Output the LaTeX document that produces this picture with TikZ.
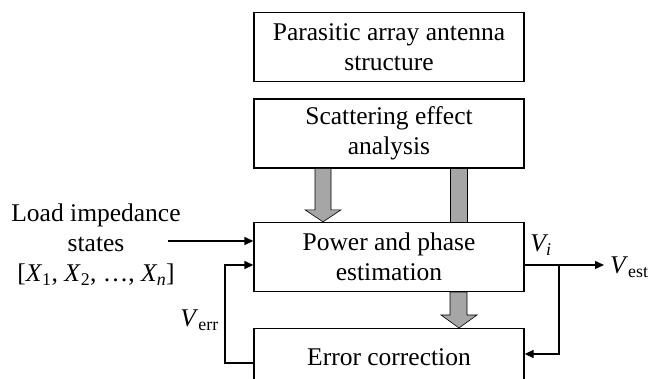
\documentclass[tikz,border=0pt]{standalone}
\usepackage{fontspec}
\setmainfont{Liberation Serif}
\usetikzlibrary{calc,arrows.meta}
\begin{document}
\begin{tikzpicture}[x=1pt,y=-1pt,
  box/.style={draw,line width=1.3pt,minimum width=270pt,minimum height=69pt,inner sep=0pt,align=center,font=\fontsize{25.5}{30}\selectfont},
  lbl/.style={font=\fontsize{25.5}{30}\selectfont,inner sep=0pt},
  conn/.style={line width=1.3pt,-{Triangle[length=9pt,width=8pt]}},
  fat/.style={fill=black!35,draw=black,line width=0.6pt}]
\useasboundingbox (0,0) rectangle (648,379);
\clip (0,0) rectangle (648,379);
\node[box] (pa) at (389,47) {Parasitic array antenna\\structure};
\node[box] (se) at (389,133.5) {Scattering effect\\analysis};
\node[box] (pp) at (389,257) {Power and phase\\estimation};
\node[box,minimum height=80pt,anchor=north] (ec) at (389,328) {};
\node[lbl] (ect) at (389,357) {Error correction};
% gray arrows
\draw[fat] ($(se.south)+(-74,0)$) -- ($(se.south)+(-58,0)$) -- ($(pp.north)+(-58,-12)$) -- ($(pp.north)+(-48,-12)$) -- ($(pp.north)+(-66,0)$) -- ($(pp.north)+(-84,-12)$) -- ($(pp.north)+(-74,-12)$) -- cycle;
\draw[fat] ($(se.south)+(61,0)$) -- ($(se.south)+(78,0)$) -- ($(pp.north)+(78,0)$) -- ($(pp.north)+(61,0)$) -- cycle;
\draw[fat] ($(pp.south)+(61,0)$) -- ($(pp.south)+(78,0)$) -- ($(ec.north)+(78,-13)$) -- ($(ec.north)+(88,-13)$) -- ($(ec.north)+(70,0)$) -- ($(ec.north)+(52,-13)$) -- ($(ec.north)+(61,-13)$) -- cycle;
% input
\node[lbl,align=center] (li) at (96,245) {Load impedance\\states\\{[}\textit{X}\textsubscript{1}, \textit{X}\textsubscript{2}, \ldots, \textit{X\textsubscript{n}}{]}};
\coordinate (lin) at (168,241);
\draw[conn] (lin) -- (pp.west |- lin);
% feedback
\coordinate (fb) at (225,363);
\draw[conn] (ec.west |- fb) -- (fb) |- ($(pp.west)+(0,8)$);
\node[lbl,anchor=east] (verr) at (219,320) {\textit{V}\textsubscript{err}};
% output
\coordinate (out) at (604,265);
\coordinate (br) at (559,265);
\draw[conn] (pp.east |- out) -- (out);
\draw[conn] (br) |- (ec.east |- 0,354);
\node[lbl] (vi) at (541,245) {\textit{V\textsubscript{i}}};
\node[lbl,anchor=west] (vest) at (610,267) {\textit{V}\textsubscript{est}};
\end{tikzpicture}
\end{document}
